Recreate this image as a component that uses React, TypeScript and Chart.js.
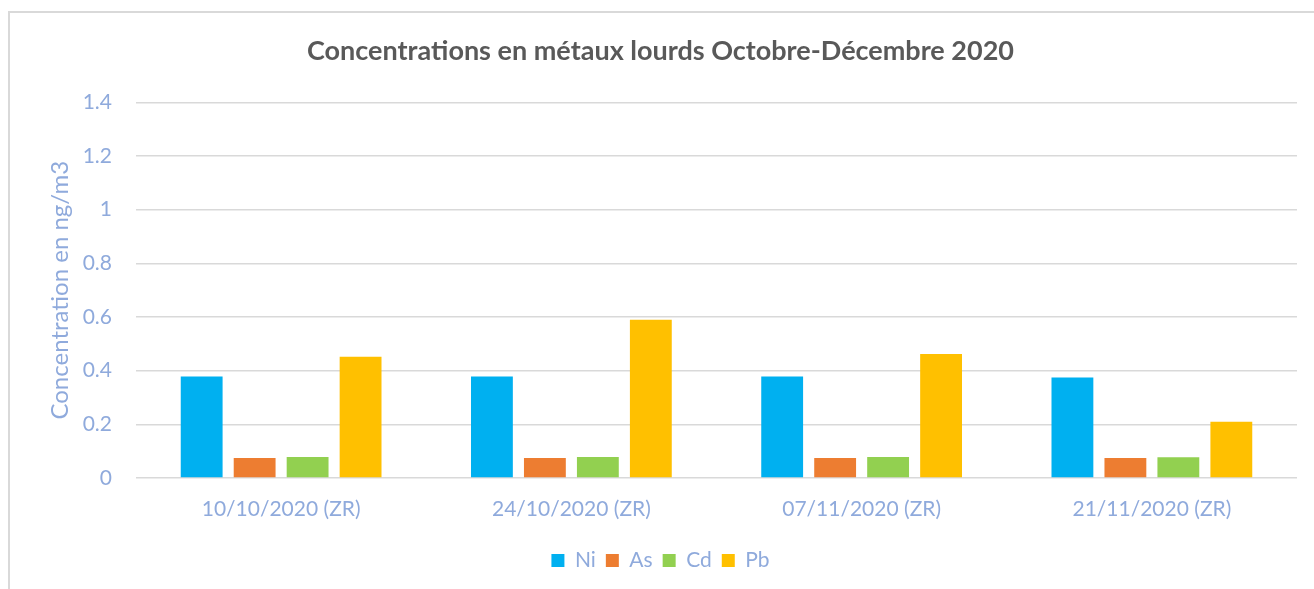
import React, { useEffect, useRef } from "react";
import { Chart, registerables } from "chart.js";

Chart.register(...registerables);

const categories = ["10/10/2020 (ZR)", "24/10/2020 (ZR)", "07/11/2020 (ZR)", "21/11/2020 (ZR)"];
const niValues = [0.378, 0.378, 0.378, 0.375];
const asValues = [0.075, 0.075, 0.075, 0.075];
const cdValues = [0.078, 0.078, 0.078, 0.077];
const pbValues = [0.452, 0.59, 0.462, 0.21];
const seriesNames = ["Ni", "As", "Cd", "Pb"];
const seriesColors = ["#00b0f0", "#ed7d31", "#92d050", "#ffc000"];

const FONT = "Lato, 'Open Sans', sans-serif";
const AXIS_COLOR = "#8faadc";

export default function App() {
  const ref = useRef<HTMLCanvasElement | null>(null);

  useEffect(() => {
    if (!ref.current) return;
    const values = [niValues, asValues, cdValues, pbValues];
    const chart = new Chart(ref.current, {
      type: "bar",
      data: {
        labels: categories,
        datasets: seriesNames.map((name, i) => ({
          label: name,
          data: values[i],
          backgroundColor: seriesColors[i],
          categoryPercentage: 0.73,
          barPercentage: 0.79,
        })),
      },
      options: {
        animation: false,
        responsive: false,
        maintainAspectRatio: false,
        layout: { padding: { left: 24, right: 17, top: 0, bottom: 8 } },
        plugins: {
          title: {
            display: true,
            text: "Concentrations en métaux lourds Octobre-Décembre 2020",
            color: "#595959",
            font: { family: FONT, size: 27, weight: "bold" },
            padding: { top: 35, bottom: 35 },
          },
          legend: {
            display: true,
            position: "bottom",
            labels: {
              color: AXIS_COLOR,
              font: { family: FONT, size: 21 },
              boxWidth: 13,
              boxHeight: 13,
              padding: 10,
            },
          },
          tooltip: { enabled: false },
        },
        scales: {
          x: {
            grid: { display: false, drawTicks: false },
            border: { display: false },
            ticks: { color: AXIS_COLOR, font: { family: FONT, size: 21 }, padding: 19 },
            afterFit: (s: any) => {
              s.height = 62;
            },
          },
          y: {
            min: 0,
            max: 1.4,
            grid: { color: "#d9d9d9", lineWidth: 1.5, drawTicks: false },
            border: { display: false },
            ticks: {
              stepSize: 0.2,
              color: AXIS_COLOR,
              font: { family: FONT, size: 21 },
              padding: 24,
              callback: (v: any) => String(Number(Number(v).toFixed(1))),
            },
            title: {
              display: true,
              text: "Concentration en ng/m3",
              color: AXIS_COLOR,
              font: { family: FONT, size: 24 },
              padding: { top: 22, bottom: 0 },
            },
            afterFit: (s: any) => {
              s.width = 112;
            },
          },
        },
      },
    });
    return () => chart.destroy();
  }, []);

  return (
    <div style={{ position: "absolute", left: 0, top: 0, width: 1314, height: 589, overflow: "hidden", background: "#fff" }}>
      <div
        style={{
          position: "absolute",
          left: 8,
          top: 11,
          width: 1340,
          height: 620,
          border: "2px solid #d9d9d9",
        }}
      />
      <canvas ref={ref} width={1314} height={589} style={{ position: "absolute", left: 0, top: 0 }} />
    </div>
  );
}
